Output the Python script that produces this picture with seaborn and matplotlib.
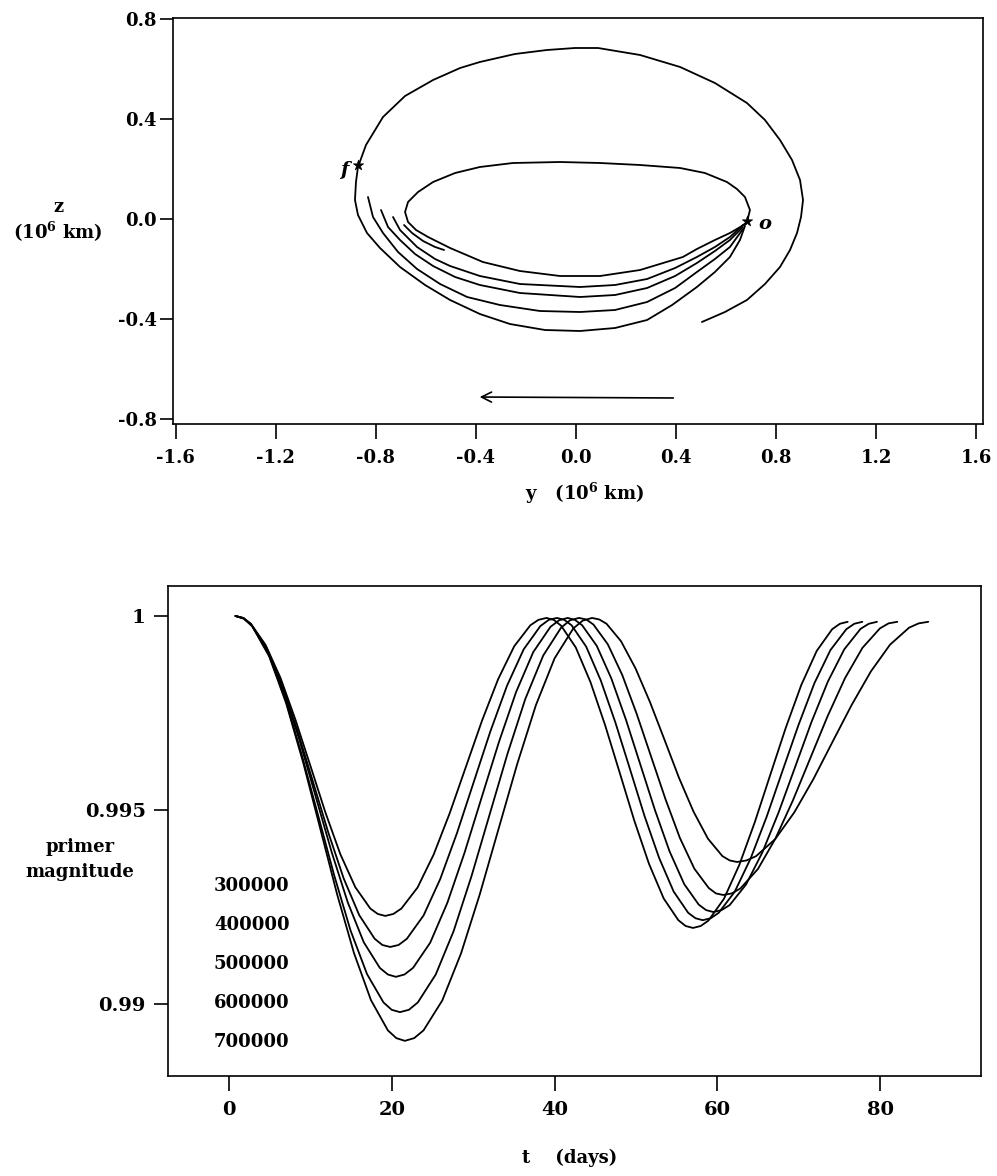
import matplotlib
matplotlib.use("Agg")
import matplotlib.pyplot as plt
import pandas as pd
import seaborn as sns

# ---------------- halo orbit geometry (y, z in 10^6 km) ----------------
outer_y = [0.675, 0.655, 0.615, 0.555, 0.483, 0.384, 0.284, 0.156, 0.016, -0.124,
           -0.264, -0.384, -0.503, -0.603, -0.703, -0.783, -0.835, -0.871, -0.883, -0.879,
           -0.871, -0.839, -0.771, -0.683, -0.571, -0.463, -0.384, -0.244, -0.116, -0.004,
           0.088, 0.256, 0.416, 0.555, 0.683, 0.755, 0.815, 0.863, 0.895, 0.907,
           0.899, 0.883, 0.855, 0.815, 0.755, 0.683, 0.595, 0.503]
outer_z = [-0.027, -0.083, -0.151, -0.211, -0.271, -0.343, -0.403, -0.435, -0.447, -0.443,
           -0.419, -0.379, -0.323, -0.263, -0.191, -0.115, -0.055, 0.017, 0.077, 0.149,
           0.209, 0.297, 0.409, 0.493, 0.557, 0.605, 0.629, 0.661, 0.677, 0.685,
           0.685, 0.657, 0.609, 0.545, 0.465, 0.397, 0.317, 0.237, 0.157, 0.077,
           0.009, -0.055, -0.123, -0.191, -0.259, -0.323, -0.371, -0.411]

inner_y = [0.683, 0.695, 0.675, 0.643, 0.603, 0.515, 0.416, 0.256, 0.096, -0.064,
           -0.252, -0.384, -0.483, -0.571, -0.631, -0.671, -0.683, -0.671, -0.639, -0.591,
           -0.503, -0.372, -0.224, -0.064, 0.096, 0.256, 0.427, 0.483, 0.555, 0.615,
           0.663, 0.683]
inner_z = [-0.011, 0.037, 0.089, 0.121, 0.149, 0.185, 0.205, 0.217, 0.225, 0.229,
           0.225, 0.209, 0.185, 0.149, 0.109, 0.069, 0.029, -0.011, -0.043, -0.071,
           -0.115, -0.171, -0.207, -0.227, -0.227, -0.203, -0.151, -0.119, -0.083, -0.055,
           -0.027, -0.011]

short_y = [-0.687, -0.655, -0.611, -0.563, -0.527]
short_z = [-0.023, -0.055, -0.087, -0.111, -0.123]

arc_c_y = [-0.731, -0.703, -0.635, -0.563, -0.503, -0.384, -0.224, 0.016, 0.156, 0.284,
           0.396, 0.483, 0.555, 0.615, 0.667]
arc_c_z = [0.009, -0.043, -0.111, -0.159, -0.187, -0.227, -0.259, -0.271, -0.263, -0.239,
           -0.195, -0.151, -0.111, -0.071, -0.023]

arc_b_y = [-0.779, -0.751, -0.703, -0.643, -0.571, -0.483, -0.384, -0.224, 0.016, 0.156,
           0.284, 0.396, 0.483, 0.555, 0.615, 0.667]
arc_b_z = [0.037, -0.031, -0.083, -0.139, -0.187, -0.231, -0.263, -0.295, -0.311, -0.303,
           -0.275, -0.227, -0.175, -0.127, -0.083, -0.031]

arc_a_y = [-0.831, -0.811, -0.771, -0.711, -0.635, -0.543, -0.435, -0.304, -0.144, 0.016,
           0.156, 0.284, 0.396, 0.483, 0.555, 0.615, 0.667]
arc_a_z = [0.089, 0.009, -0.055, -0.131, -0.199, -0.259, -0.311, -0.343, -0.367, -0.371,
           -0.363, -0.331, -0.275, -0.211, -0.159, -0.111, -0.039]

point_names = ["f", "o"]
point_y = [-0.871, 0.683]
point_z = [0.217, -0.007]

arrow_tail = (0.400, -0.715)
arrow_head = (-0.396, -0.711)

top_xticks = [-1.6, -1.2, -0.8, -0.4, 0.0, 0.4, 0.8, 1.2, 1.6]
top_xlabels = ["-1.6", "-1.2", "-0.8", "-0.4", "0.0", "0.4", "0.8", "1.2", "1.6"]
top_yticks = [-0.8, -0.4, 0.0, 0.4, 0.8]
top_ylabels = ["-0.8", "-0.4", "0.0", "0.4", "0.8"]

# ---------------- primer magnitude histories ----------------
amplitudes = ["300000", "400000", "500000", "600000", "700000"]

days_300k = [0.8, 1.72, 2.64, 4.48, 6.32, 8.16, 10.0, 11.84, 13.68, 15.52, 17.36, 18.28, 19.2,
             20.19, 21.18, 23.16, 25.14, 27.12, 29.1, 31.08, 33.06, 35.04, 37.02, 38.01, 39.0,
             39.9, 40.8, 42.6, 44.4, 46.2, 48.0, 49.8, 51.6, 53.4, 55.2, 56.1, 57.0,
             57.95, 58.9, 60.8, 62.7, 64.6, 66.5, 68.4, 70.3, 72.2, 74.1, 75.05, 76.0]
primer_300k = [1.0, 0.99995, 0.99981, 0.99926, 0.99841, 0.99733, 0.99614, 0.99494, 0.99386, 0.99301,
               0.99246, 0.99232, 0.99227,
               0.99232, 0.99246, 0.99300, 0.99385, 0.99492, 0.99611, 0.99730, 0.99837, 0.99922,
               0.99976, 0.99990, 0.99995,
               0.99990, 0.99975, 0.99919, 0.99830, 0.99719, 0.99596, 0.99472, 0.99361, 0.99272,
               0.99216, 0.99201, 0.99196,
               0.99201, 0.99215, 0.99271, 0.99359, 0.99469, 0.99591, 0.99712, 0.99822, 0.99910,
               0.99966, 0.99980, 0.99985]

days_400k = [0.8, 1.75, 2.7, 4.6, 6.5, 8.4, 10.3, 12.2, 14.1, 16.0, 17.9, 18.85, 19.8,
             20.83, 21.85, 23.9, 25.95, 28.0, 30.05, 32.1, 34.15, 36.2, 38.25, 39.28, 40.3,
             41.2, 42.09, 43.88, 45.67, 47.46, 49.25, 51.04, 52.83, 54.62, 56.41, 57.31, 58.2,
             59.18, 60.16, 62.12, 64.08, 66.04, 68.0, 69.96, 71.92, 73.88, 75.84, 76.82, 77.8]
primer_400k = [1.0, 0.99995, 0.99979, 0.99919, 0.99824, 0.99705, 0.99574, 0.99442, 0.99323, 0.99229,
               0.99168, 0.99152, 0.99147,
               0.99152, 0.99168, 0.99228, 0.99322, 0.99440, 0.99571, 0.99702, 0.99820, 0.99914,
               0.99974, 0.99990, 0.99995,
               0.99990, 0.99976, 0.99921, 0.99834, 0.99726, 0.99606, 0.99485, 0.99377, 0.99290,
               0.99235, 0.99221, 0.99216,
               0.99221, 0.99235, 0.99289, 0.99375, 0.99482, 0.99601, 0.99719, 0.99827, 0.99912,
               0.99966, 0.99980, 0.99985]

days_500k = [0.8, 1.79, 2.77, 4.74, 6.71, 8.68, 10.65, 12.62, 14.59, 16.56, 18.53, 19.52, 20.5,
             21.56, 22.61, 24.72, 26.83, 28.94, 31.05, 33.16, 35.27, 37.38, 39.49, 40.55, 41.6,
             42.5, 43.39, 45.18, 46.97, 48.76, 50.55, 52.34, 54.13, 55.92, 57.71, 58.61, 59.5,
             60.51, 61.51, 63.52, 65.53, 67.54, 69.55, 71.56, 73.57, 75.58, 77.59, 78.6, 79.6]
primer_500k = [1.0, 0.99994, 0.99977, 0.99911, 0.99808, 0.99679, 0.99535, 0.99391, 0.99262, 0.99159,
               0.99093, 0.99076, 0.99070,
               0.99076, 0.99093, 0.99158, 0.99261, 0.99390, 0.99533, 0.99675, 0.99804, 0.99907,
               0.99972, 0.99989, 0.99995,
               0.99990, 0.99976, 0.99923, 0.99839, 0.99733, 0.99616, 0.99499, 0.99393, 0.99309,
               0.99256, 0.99242, 0.99237,
               0.99242, 0.99255, 0.99308, 0.99391, 0.99495, 0.99611, 0.99727, 0.99831, 0.99914,
               0.99967, 0.99980, 0.99985]

days_600k = [0.8, 1.81, 2.82, 4.84, 6.86, 8.88, 10.9, 12.92, 14.94, 16.96, 18.98, 19.99, 21.0,
             22.1, 23.2, 25.4, 27.6, 29.8, 32.0, 34.2, 36.4, 38.6, 40.8, 41.9, 43.0,
             43.89, 44.77, 46.54, 48.31, 50.08, 51.85, 53.62, 55.39, 57.16, 58.93, 59.82, 60.7,
             61.77, 62.84, 64.98, 67.12, 69.26, 71.4, 73.54, 75.68, 77.82, 79.96, 81.03, 82.1]
primer_600k = [1.0, 0.99994, 0.99975, 0.99903, 0.99790, 0.99647, 0.99490, 0.99332, 0.99189, 0.99077,
               0.99004, 0.98985, 0.98979,
               0.98985, 0.99004, 0.99076, 0.99188, 0.99330, 0.99487, 0.99644, 0.99786, 0.99898,
               0.99970, 0.99989, 0.99995,
               0.99991, 0.99978, 0.99927, 0.99848, 0.99748, 0.99638, 0.99528, 0.99428, 0.99349,
               0.99299, 0.99285, 0.99281,
               0.99285, 0.99298, 0.99348, 0.99426, 0.99524, 0.99633, 0.99742, 0.99840, 0.99918,
               0.99968, 0.99981, 0.99985]

days_700k = [0.8, 1.84, 2.88, 4.96, 7.04, 9.12, 11.2, 13.28, 15.36, 17.44, 19.52, 20.56, 21.6,
             22.75, 23.9, 26.2, 28.5, 30.8, 33.1, 35.4, 37.7, 40.0, 42.3, 43.45, 44.6,
             45.49, 46.38, 48.16, 49.94, 51.72, 53.5, 55.28, 57.06, 58.84, 60.62, 61.51, 62.4,
             63.58, 64.75, 67.1, 69.45, 71.8, 74.15, 76.5, 78.85, 81.2, 83.55, 84.73, 85.9]
primer_700k = [1.0, 0.99993, 0.99973, 0.99895, 0.99774, 0.99622, 0.99453, 0.99283, 0.99131, 0.99010,
               0.98932, 0.98912, 0.98905,
               0.98912, 0.98932, 0.99009, 0.99130, 0.99282, 0.99450, 0.99618, 0.99770, 0.99891,
               0.99968, 0.99988, 0.99995,
               0.99991, 0.99980, 0.99935, 0.99865, 0.99778, 0.99681, 0.99583, 0.99496, 0.99426,
               0.99381, 0.99370, 0.99366,
               0.99370, 0.99381, 0.99425, 0.99494, 0.99580, 0.99676, 0.99771, 0.99857, 0.99926,
               0.99970, 0.99981, 0.99985]

label_day = -1.84
label_primer = [0.99304, 0.99204, 0.99103, 0.99003, 0.98902]

bot_xticks = [0, 20, 40, 60, 80]
bot_xlabels = ["0", "20", "40", "60", "80"]
bot_yticks = [0.99, 0.995, 1.0]
bot_ylabels = ["0.99", "0.995", "1"]

# ---------------- styling ----------------
sns.set_style("ticks")
plt.rcParams["font.family"] = ["DejaVu Serif"]
plt.rcParams["font.weight"] = "bold"
plt.rcParams["mathtext.fontset"] = "dejavuserif"
plt.rcParams["mathtext.default"] = "bf"
plt.rcParams["axes.unicode_minus"] = False
plt.rcParams["axes.linewidth"] = 1.2
plt.rcParams["text.color"] = "black"
plt.rcParams["axes.edgecolor"] = "black"
plt.rcParams["xtick.color"] = "black"
plt.rcParams["ytick.color"] = "black"
plt.rcParams["xtick.labelcolor"] = "black"
plt.rcParams["ytick.labelcolor"] = "black"

W, H = 997, 1176
fig = plt.figure(figsize=(W / 100, H / 100), dpi=100)
fig.patch.set_facecolor("white")


def frame(left, top, right, bottom):
    return [left / W, 1 - bottom / H, (right - left) / W, (bottom - top) / H]


ax1 = fig.add_axes(frame(173, 18, 983, 424))
ax2 = fig.add_axes(frame(168, 586, 981, 1076))
LW = 1.3
FS = 13

# ---------------- top panel: trajectories in the y-z plane ----------------
paths = [(outer_y, outer_z), (inner_y, inner_z), (short_y, short_z),
         (arc_a_y, arc_a_z), (arc_b_y, arc_b_z), (arc_c_y, arc_c_z)]
for py_, pz_ in paths:
    sns.lineplot(x=py_, y=pz_, sort=False, estimator=None, color="black",
                 linewidth=LW, ax=ax1)

sns.scatterplot(x=point_y, y=point_z, marker="*", s=60, color="black",
                edgecolor="black", linewidth=0.5, ax=ax1, zorder=5)
ax1.text(point_y[0] - 0.055, point_z[0] - 0.02, point_names[0], style="italic",
         fontsize=FS + 1, ha="center", va="center")
ax1.text(point_y[1] + 0.07, point_z[1] - 0.012, point_names[1], style="italic",
         fontsize=FS + 1, ha="center", va="center")

ax1.annotate("", xy=arrow_head, xytext=arrow_tail,
             arrowprops=dict(arrowstyle="->", color="black", lw=1.2,
                             mutation_scale=18))

ax1.set_xlim(-1.610, 1.626)
ax1.set_ylim(-0.819, 0.805)
ax1.set_xticks(top_xticks)
ax1.set_xticklabels(top_xlabels, fontweight="bold")
ax1.set_yticks(top_yticks)
ax1.set_yticklabels(top_ylabels, fontweight="bold")
ax1.tick_params(axis="x", direction="out", length=11, width=1.2, pad=7, labelsize=FS)
ax1.tick_params(axis="y", direction="out", length=9.5, width=1.2, pad=2, labelsize=FS)
ax1.set_xlabel("")
ax1.set_ylabel("")

# ---------------- bottom panel: primer magnitude vs time ----------------
rows = []
for name, d, p in zip(amplitudes,
                      [days_300k, days_400k, days_500k, days_600k, days_700k],
                      [primer_300k, primer_400k, primer_500k, primer_600k, primer_700k]):
    for t, v in zip(d, p):
        rows.append({"amplitude": name, "t": t, "primer": v})
df = pd.DataFrame(rows)

sns.lineplot(data=df, x="t", y="primer", hue="amplitude", palette=["black"] * 5,
             estimator=None, sort=False, linewidth=LW, legend=False, ax=ax2)

for name, yv in zip(amplitudes, label_primer):
    ax2.text(label_day, yv, name, fontsize=FS, ha="left", va="center")

ax2.set_xlim(-7.49, 92.38)
ax2.set_ylim(0.988144, 1.000773)
ax2.set_xticks(bot_xticks)
ax2.set_xticklabels(bot_xlabels, fontweight="bold")
ax2.set_yticks(bot_yticks)
ax2.set_yticklabels(bot_ylabels, fontweight="bold")
ax2.tick_params(axis="x", direction="out", length=11, width=1.2, pad=7, labelsize=FS + 1)
ax2.tick_params(axis="y", direction="out", length=10, width=1.2, pad=6, labelsize=FS + 1)
ax2.set_xlabel("")
ax2.set_ylabel("")

for ax in (ax1, ax2):
    for s in ax.spines.values():
        s.set_visible(True)
        s.set_linewidth(1.2)
        s.set_color("black")

# ---------------- axis titles ----------------
fig.text(58 / W, 1 - 207 / H, "z", fontsize=FS, ha="center", va="center")
fig.text(58 / W, 1 - 232 / H, r"(10$^{6}$ km)", fontsize=FS, ha="center", va="center")
fig.text(585 / W, 1 - 493 / H, r"y   (10$^{6}$ km)", fontsize=FS, ha="center", va="center")
fig.text(80 / W, 1 - 847 / H, "primer", fontsize=FS, ha="center", va="center")
fig.text(80 / W, 1 - 872 / H, "magnitude", fontsize=FS, ha="center", va="center")
fig.text(570 / W, 1 - 1158 / H, "t    (days)", fontsize=FS, ha="center", va="center")

fig.savefig("out.png", dpi=100)
